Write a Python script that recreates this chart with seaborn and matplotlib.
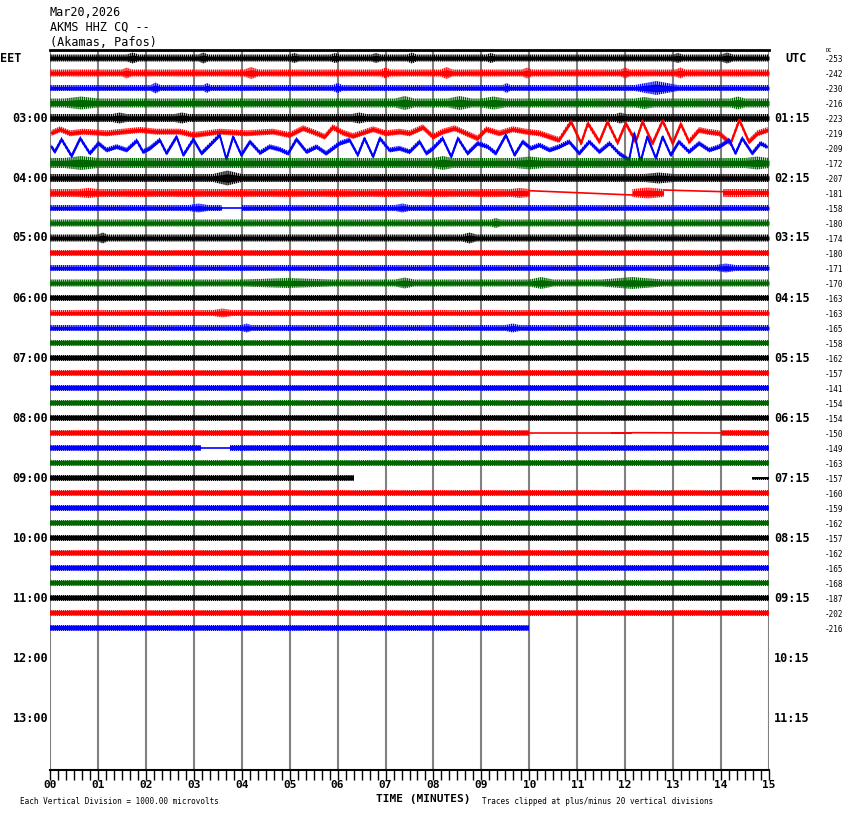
import matplotlib
matplotlib.use("Agg")
import matplotlib.pyplot as plt
import seaborn as sns
import numpy as np

# helicorder: 15 minute lines, one row = 15 amplitude units
row_count = 39
trace_colors = ['black', '#ff0000', '#0000ff', '#006600']
eet_labels = ['03:00', '04:00', '05:00', '06:00', '07:00', '08:00', '09:00',
              '10:00', '11:00', '12:00', '13:00']
utc_labels = ['01:15', '02:15', '03:15', '04:15', '05:15', '06:15', '07:15',
              '08:15', '09:15', '10:15', '11:15']
dc_values = [-253, -242, -230, -216, -223, -219, -209, -172, -207, -181, -158, -180,
             -174, -180, -171, -170, -163, -163, -165, -158, -162, -157, -141, -154,
             -154, -150, -149, -163, -157, -160, -159, -162, -157, -162, -165, -168,
             -187, -202, -216]

# typical half-width of the noise band per row
noise_amp = [3.5, 3.5, 3, 4.5, 4, 3, 2.5, 5, 4, 4, 3, 3.5,
             3.5, 3, 3, 3.5, 3, 3, 3, 3, 3, 2.8, 3, 2.8,
             2.8, 2.8, 2.8, 2.8, 2.8, 3, 2.8, 2.8, 2.8, 2.8, 2.8, 2.8,
             2.8, 2.8, 2.8]

# (row, start minute, end minute, peak half-width)
bursts = [
    (0, 1.6, 1.85, 5.5), (0, 3.1, 3.3, 5.5), (0, 5.0, 5.2, 5), (0, 5.85, 6.05, 5),
    (0, 6.7, 6.9, 5), (0, 7.45, 7.65, 5.5), (0, 9.1, 9.3, 5), (0, 13.0, 13.2, 5),
    (0, 14.0, 14.25, 5.5),
    (1, 1.5, 1.7, 5.5), (1, 4.05, 4.35, 6), (1, 6.9, 7.1, 5.5), (1, 8.15, 8.4, 6),
    (1, 9.85, 10.05, 5.5), (1, 11.9, 12.1, 5.5), (1, 13.05, 13.25, 5.5),
    (2, 2.1, 2.3, 5.5), (2, 3.2, 3.35, 5), (2, 5.9, 6.1, 5), (2, 9.45, 9.6, 5),
    (2, 12.2, 13.1, 7),
    (3, 0.3, 1.0, 6.5), (3, 7.2, 7.6, 7), (3, 8.3, 8.8, 7), (3, 9.0, 9.5, 6.5),
    (3, 12.2, 12.6, 6), (3, 14.2, 14.5, 6.5),
    (4, 1.3, 1.6, 5.5), (4, 2.6, 2.9, 5.5), (4, 6.3, 6.6, 5.5), (4, 11.8, 12.0, 5.5),
    (7, 0.3, 1.0, 7), (7, 8.0, 8.4, 7), (7, 9.7, 10.3, 6.5), (7, 14.5, 15.0, 6.5),
    (8, 3.4, 4.0, 7.5), (8, 12.4, 13.0, 5.5),
    (9, 0.6, 1.0, 5), (9, 9.6, 10.0, 5), (9, 12.15, 12.8, 5.5),
    (10, 2.9, 3.3, 4.5), (10, 7.2, 7.5, 4.5),
    (11, 9.2, 9.4, 5),
    (12, 1.0, 1.2, 5.5), (12, 8.6, 8.9, 5.5),
    (14, 13.9, 14.3, 4.5),
    (15, 4.0, 5.9, 5), (15, 7.2, 7.6, 5.5), (15, 10.0, 10.5, 6), (15, 11.5, 12.8, 6),
    (17, 3.4, 3.8, 4.5),
    (18, 4.0, 4.2, 4.5), (18, 9.5, 9.8, 4.5),
]

# minutes where each trace has data (rows not listed run 0-15)
live_spans = {
    9: [(0, 10.0), (12.15, 12.8), (14.05, 15.0)],
    10: [(0, 3.58), (4.0, 15.0)],
    25: [(0, 10.0), (11.7, 12.15), (14.0, 15.0)],
    26: [(0, 3.16), (3.75, 15.0)],
    28: [(0, 6.35), (14.65, 15.0)],
    38: [(0, 10.0)],
}
# quieter pieces: (row, start, end, half-width)
span_amp = [(25, 11.7, 12.15, 1.2), (28, 14.65, 15.0, 1.5)]

# flat (dead) pieces: (row, start, end, offset at start, offset at end)
flat_segments = [
    (9, 10.0, 12.15, 2.3, -2.0), (9, 12.8, 14.05, 3.0, 1.3),
    (10, 3.58, 4.0, 0.0, 0.0),
    (25, 10.0, 11.7, 0.0, 0.0), (25, 12.15, 14.0, 0.3, 0.0),
    (26, 3.16, 3.75, 0.5, 0.5),
]

# long-period wave on 03:15 (red) and 03:30 (blue) rows, read peak by peak
red_wave_min = [0.03, 0.21, 0.42, 0.69, 1.18, 1.88, 2.22, 2.71, 2.99, 3.54, 4.10, 4.65,
                5.0, 5.28, 5.56, 5.73, 5.90, 6.11, 6.32, 6.74, 7.01, 7.29, 7.50, 7.78,
                7.99, 8.19, 8.44, 8.68, 8.92, 9.10, 9.37, 9.65, 9.93, 10.21, 10.42,
                10.62, 10.87, 11.08, 11.22, 11.46, 11.63, 11.84, 12.01, 12.22, 12.36,
                12.57, 12.78, 12.99, 13.16, 13.33, 13.54, 13.71, 13.96, 14.20, 14.38,
                14.58, 14.76, 14.97]
red_wave_val = [0, 3.7, -0.3, 1.3, -0.3, 3, 1.3, 1.3, -2, 1.3, -0.3, 1.3,
                -2, 4.7, -0.3, -3.7, 5.7, 0.3, -3, 3.7, -0.3, 1.3, -0.3, 5.7,
                -3.7, 1.3, 4.7, -0.3, -5.3, 3.7, -0.3, 3.7, 1.3, -0.3, -3.7,
                -7, 11.3, -10.3, 9.7, -8.7, 11.3, -9.7, 9.7, -8.7, 11.3,
                -10.3, 12.3, -10.3, 9, -8.7, 3, 1.3, -0.3, -10.3, 13,
                -8.7, -0.3, 3]
blue_wave_min = [0.03, 0.10, 0.24, 0.45, 0.63, 0.83, 1.01, 1.18, 1.39, 1.60, 1.81, 1.94,
                 2.08, 2.29, 2.43, 2.64, 2.78, 2.99, 3.16, 3.37, 3.54, 3.68, 3.82, 3.99,
                 4.17, 4.38, 4.58, 4.79, 4.97, 5.14, 5.35, 5.56, 5.76, 6.04, 6.25, 6.42,
                 6.56, 6.74, 6.88, 7.08, 7.29, 7.50, 7.71, 7.85, 7.99, 8.19, 8.37, 8.51,
                 8.71, 8.92, 9.13, 9.30, 9.51, 9.69, 9.86, 10.03, 10.21, 10.42, 10.62,
                 10.83, 11.04, 11.25, 11.46, 11.67, 11.87, 12.08, 12.19, 12.32, 12.46,
                 12.64, 12.78, 12.95, 13.12, 13.33, 13.54, 13.75, 13.96, 14.17, 14.30,
                 14.44, 14.65, 14.82, 14.96]
blue_wave_val = [1.3, -3.7, 8.7, -8, 9.7, -5.3, 4.7, -2, 1.3, -2, 7.3, -3.7,
                 -0.3, 8, -5.3, 11.3, -7, 8.7, -5.3, 4.7, 13, -11.3, 11.3, -7,
                 6.3, -4.7, 1.3, -1.3, -5.3, 8.7, -3.7, 1.3, -5.3, 4.7, 8, -7,
                 9.7, -8.7, 9.7, -2, -0.3, -3.7, 6.3, -5.3, -0.3, 9.7, -8.7, 9.7,
                 -5.3, 4.7, 1.3, -5.3, 13, -7, 6.3, -0.3, 3, -2, 1.3,
                 6.3, -5.3, 6.3, -3.7, 4.7, -5.3, -12, 14.7, -13.7, 11.3,
                 -10.3, 11.3, -7, 6.3, -3.7, 4.7, -2, 1.3, 8, -5.3,
                 9.7, -5.3, 4.7, 1.3]
wave_rows = {5: (red_wave_min, red_wave_val), 6: (blue_wave_min, blue_wave_val)}

ROW_STEP = 15


def envelope(row, a, b):
    """spindle-shaped envelope (x, half-width) for one live span of a row"""
    base = noise_amp[row]
    for r, lo, hi, h in span_amp:
        if r == row and lo <= a and hi >= b:
            base = h
    pts = [(a, base), (b, base)]
    for r, lo, hi, peak in bursts:
        if r != row or lo < a or hi > b:
            continue
        pts += [(lo, base), ((lo + hi) / 2, peak), (hi, base)]
    pts.sort()
    return np.array([p[0] for p in pts]), np.array([p[1] for p in pts])


def noise_band(x, center, half, color):
    # solid core plus striped outer part, to look like dense noise
    ax.fill_between(x, center - 0.55 * half, center + 0.55 * half,
                    color=color, lw=0, zorder=3)
    ax.fill_between(x, center - half, center + half, facecolor='none',
                    edgecolor=color, hatch='|' * 8, lw=0, zorder=3)


sns.set_style("white")
plt.rcParams['hatch.linewidth'] = 1.0
plt.rcParams['text.color'] = 'black'
plt.rcParams['xtick.color'] = 'black'
plt.rcParams['xtick.labelcolor'] = 'black'
fig = plt.figure(figsize=(8.5, 8.14), dpi=100)
ax = fig.add_axes([50 / 850, 1 - 770 / 814, 719 / 850, 720 / 814])

for m in range(16):
    ax.axvline(m, color='#808080', lw=1.5, zorder=1)

for row in range(row_count):
    color = trace_colors[row % 4]
    yc = -ROW_STEP * row
    if row in wave_rows:
        wx, wy = wave_rows[row]
        wx = np.array(wx)
        wy = np.array(wy) + yc
        noise_band(wx, wy, np.full(len(wx), noise_amp[row]), color)
        sns.lineplot(x=wx, y=wy, color=color, lw=1.4, ax=ax, sort=False,
                     estimator=None, zorder=3)
        continue
    for a, b in live_spans.get(row, [(0, 15.0)]):
        xs, hs = envelope(row, a, b)
        noise_band(xs, np.full(len(xs), yc), hs, color)

for row, a, b, ya, yb in flat_segments:
    color = trace_colors[row % 4]
    yc = -ROW_STEP * row
    sns.lineplot(x=[a, b], y=[yc + ya, yc + yb], color=color, lw=1.2, ax=ax,
                 estimator=None, zorder=3)

ax.set_xlim(0, 15)
ax.set_ylim(-712, 8)
ax.set_yticks([])
ax.set_xticks(range(16))
ax.set_xticklabels([f'{m:02d}' for m in range(16)], fontfamily='DejaVu Sans Mono',
                   fontweight='bold', fontsize=8, color='black')
ax.set_xticks(np.arange(0, 15.01, 1 / 6), minor=True)
ax.tick_params(axis='x', which='both', direction='out', length=7, width=1,
               color='black', bottom=True, pad=0.5)
for side in ['left', 'right']:
    ax.spines[side].set_visible(False)
ax.spines['top'].set_color('black')
ax.spines['top'].set_linewidth(2)
ax.spines['bottom'].set_color('black')
ax.spines['bottom'].set_linewidth(1.5)

mono = 'DejaVu Sans Mono'


def px_text(x, y, s, **kw):
    fig.text(x / 850, 1 - y / 814, s, fontfamily=mono, color='black', **kw)


px_text(50, 12, 'Mar20,2026', fontsize=8.5, va='center')
px_text(50, 27, 'AKMS HHZ CQ --', fontsize=8.5, va='center')
px_text(50, 42, '(Akamas, Pafos)', fontsize=8.5, va='center')
px_text(0, 58, 'EET', fontsize=8.5, fontweight='bold', va='center')
px_text(785, 58, 'UTC', fontsize=8.5, fontweight='bold', va='center')
px_text(826, 51, 'DC', fontsize=4, va='center')

for k, lab in enumerate(eet_labels):
    y = 58 + 60 * (k + 1)
    px_text(48, y, lab, fontsize=8.5, fontweight='bold', ha='right', va='center')
    px_text(774, y, utc_labels[k], fontsize=8.5, fontweight='bold', va='center')

for row, dc in enumerate(dc_values):
    px_text(825, 58 + ROW_STEP * row + 1.5, str(dc), fontsize=5.5, va='center')

px_text(423, 799, 'TIME (MINUTES)', fontsize=8, fontweight='bold', ha='center',
        va='center')
px_text(20, 801, 'Each Vertical Division = 1000.00 microvolts', fontsize=5.5,
        va='center')
px_text(482, 801, 'Traces clipped at plus/minus 20 vertical divisions', fontsize=5.5,
        va='center')

fig.savefig('out.png', dpi=100)
